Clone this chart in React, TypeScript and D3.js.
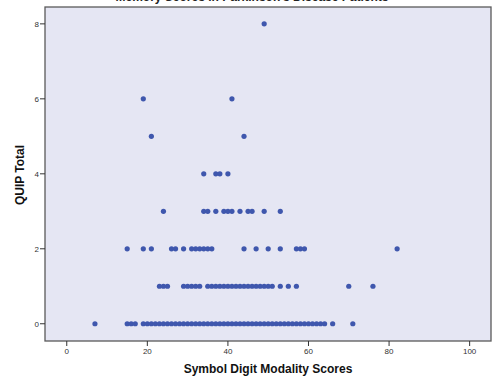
import React from "react";
import * as d3 from "d3";

const title = "Memory Scores in Parkinson's Disease Patients";
const xTitle = "Symbol Digit Modality Scores";
const yTitle = "QUIP Total";
const xTicks = [0, 20, 40, 60, 80, 100];
const yTicks = [0, 2, 4, 6, 8];

// x values (Symbol Digit Modality Scores) for each QUIP Total level
const quip0 = [7, 15, 16, 17, 19, 20, 21, 22, 23, 24, 25, 26, 27, 28, 29, 30, 31, 32, 33, 34, 35, 36, 37, 38, 39, 40, 41, 42, 43, 44, 45, 46, 47, 48, 49, 50, 51, 52, 53, 54, 55, 56, 57, 58, 59, 60, 61, 62, 63, 64, 66, 71];
const quip1 = [23, 24, 25, 29, 30, 31, 32, 33, 35, 36, 37, 38, 39, 40, 41, 42, 43, 44, 45, 46, 47, 48, 49, 50, 51, 53, 55, 57, 70, 76];
const quip2 = [15, 19, 21, 26, 27, 29, 31, 32, 33, 34, 35, 36, 44, 47, 50, 53, 57, 58, 59, 82];
const quip3 = [24, 34, 35, 37, 39, 40, 41, 43, 45, 46, 49, 53];
const quip4 = [34, 37, 38, 40];
const quip5 = [21, 44];
const quip6 = [19, 41];
const quip8 = [49];

const rows: [number, number[]][] = [
  [0, quip0], [1, quip1], [2, quip2], [3, quip3], [4, quip4], [5, quip5], [6, quip6], [8, quip8],
];

export default function App() {
  const W = 497, H = 377;
  const left = 45, right = 491, top = 7, bottom = 341;
  const x = d3.scaleLinear().domain([-5.4, 105.3]).range([left, right]);
  const y = d3.scaleLinear().domain([-0.46, 8.45]).range([bottom, top]);
  const points = rows.flatMap(([q, xs]) => xs.map((v) => ({ q, v })));
  const tickFont = "Arial, 'Liberation Sans', sans-serif";
  return (
    <svg width={W} height={H} style={{ position: "absolute", left: 0, top: 0, background: "#fff" }}>
      <text x={252} y={1} textAnchor="middle" fontFamily={tickFont} fontWeight="bold" fontSize={12} fill="#222">{title}</text>
      <rect x={left} y={top} width={right - left} height={bottom - top} fill="#e5e6f3" stroke="#5a5a5a" strokeWidth={1.3} />
      {xTicks.map((t) => (
        <g key={"x" + t}>
          <line x1={x(t)} x2={x(t)} y1={bottom} y2={bottom + 5} stroke="#333" strokeWidth={1} />
          <text x={x(t)} y={bottom + 13} textAnchor="middle" fontFamily={tickFont} fontSize={8} fill="#333">{t}</text>
        </g>
      ))}
      {yTicks.map((t) => (
        <g key={"y" + t}>
          <line x1={left - 5} x2={left} y1={y(t)} y2={y(t)} stroke="#333" strokeWidth={1} />
          <text x={left - 6} y={y(t) + 3} textAnchor="end" fontFamily={tickFont} fontSize={8} fill="#333">{t}</text>
        </g>
      ))}
      {points.map((p, i) => (
        <circle key={i} cx={x(p.v)} cy={y(p.q)} r={2.6} fill="#3f57ad" />
      ))}
      <text x={268} y={373} textAnchor="middle" fontFamily={tickFont} fontWeight="bold" fontSize={12} fill="#111">{xTitle}</text>
      <text transform={`translate(24, 175) rotate(-90)`} textAnchor="middle" fontFamily={tickFont} fontWeight="bold" fontSize={12} fill="#111">{yTitle}</text>
    </svg>
  );
}
